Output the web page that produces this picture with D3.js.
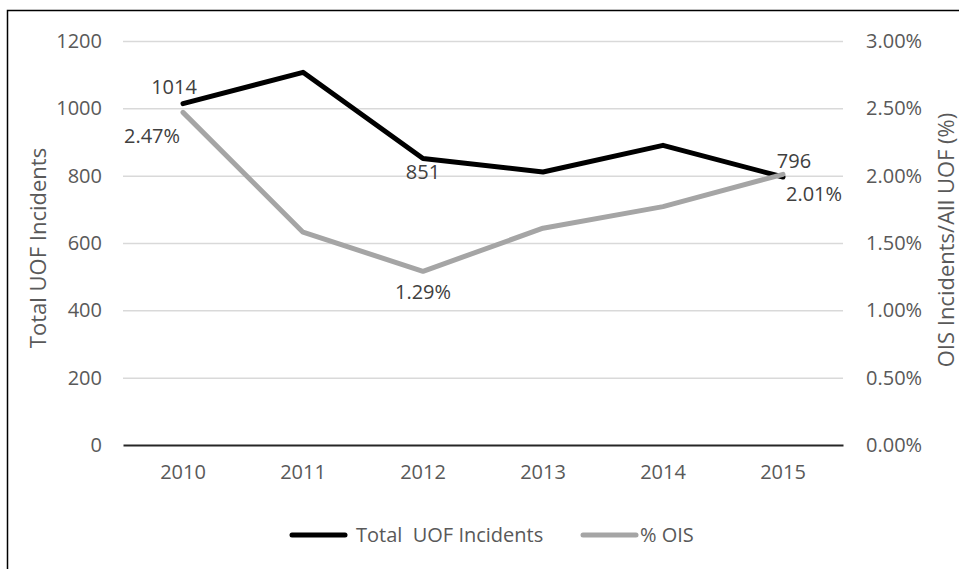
<!DOCTYPE html>
<html lang="en">
  <head>
    <meta charset="utf-8">
    <title>UOF Incidents</title>
    <style>
      body { margin: 0; background: #fff; }
      text { font-family: "Open Sans", sans-serif; }
    </style>
  </head>
  <body>
    <svg id="chart" width="959" height="569"></svg>
  </body>
  <script src="https://d3js.org/d3.v7.min.js"></script>
  <script>
    // values
    let years = ["2010", "2011", "2012", "2013", "2014", "2015"]
    let totalUOF = [1014, 1107, 851, 811, 890, 796]
    let pctOIS = [0.0247, 0.0158, 0.0129, 0.0161, 0.0177, 0.0201]
    let leftTicks = [0, 200, 400, 600, 800, 1000, 1200]
    let rightTicks = [0, 0.005, 0.01, 0.015, 0.02, 0.025, 0.03]

    let svg = d3.select("#chart")

    svg.append("rect")
      .attr("x", 7.5).attr("y", 10.5)
      .attr("width", 960).attr("height", 570)
      .style("fill", "white").style("stroke", "black").style("stroke-width", 1.5)

    let plotL = 123, plotR = 843, plotT = 41, plotB = 445

    let x = d3.scaleBand().domain(years).range([plotL, plotR])
    let cx = d => x(d) + x.bandwidth() / 2
    let yL = d3.scaleLinear().domain([0, 1200]).range([plotB, plotT])
    let yR = d3.scaleLinear().domain([0, 0.03]).range([plotB, plotT])

    // gridlines
    svg.append("g")
      .attr("transform", "translate(" + plotL + ",0)")
      .call(d3.axisLeft(yL).tickValues(leftTicks.slice(1)).tickSize(-(plotR - plotL)).tickFormat(""))
      .call(g => g.select(".domain").remove())
      .call(g => g.selectAll("line").style("stroke", "#d9d9d9").style("stroke-width", 1.5))

    // left axis labels
    let yAxisL = svg.append("g")
      .attr("transform", "translate(" + plotL + ",0)")
      .call(d3.axisLeft(yL).tickValues(leftTicks).tickSize(0).tickPadding(21).tickFormat(d3.format("d")))
    yAxisL.select(".domain").remove()

    // right axis labels
    let yAxisR = svg.append("g")
      .attr("transform", "translate(" + plotR + ",0)")
      .call(d3.axisRight(yR).tickValues(rightTicks).tickSize(0).tickPadding(23).tickFormat(d3.format(".2%")))
    yAxisR.select(".domain").remove()

    // x axis
    let xAxis = svg.append("g")
      .attr("transform", "translate(0," + plotB + ")")
      .call(d3.axisBottom(x).tickSize(0).tickPadding(20).tickSizeOuter(0))
    xAxis.select(".domain").style("stroke", "#262626").style("stroke-width", 2)

    svg.selectAll(".tick text")
      .style("font-family", "'Open Sans', sans-serif")
      .style("font-size", "20px")
      .style("fill", "#595959")

    // axis titles
    svg.append("text")
      .attr("transform", "translate(46,248) rotate(-90)")
      .attr("text-anchor", "middle")
      .style("font-size", "22px").style("fill", "#595959")
      .text("Total UOF Incidents")

    svg.append("text")
      .attr("transform", "translate(954,240) rotate(-90)")
      .attr("text-anchor", "middle")
      .style("font-size", "22px").style("fill", "#595959")
      .text("OIS Incidents/All UOF (%)")

    // lines
    let lineL = d3.line().x((d, i) => cx(years[i])).y(d => yL(d))
    let lineR = d3.line().x((d, i) => cx(years[i])).y(d => yR(d))

    svg.append("path").datum(totalUOF)
      .attr("d", lineL)
      .style("fill", "none").style("stroke", "black")
      .style("stroke-width", 5).style("stroke-linecap", "round").style("stroke-linejoin", "round")

    svg.append("path").datum(pctOIS)
      .attr("d", lineR)
      .style("fill", "none").style("stroke", "#a5a5a5")
      .style("stroke-width", 5).style("stroke-linecap", "round").style("stroke-linejoin", "round")

    // data labels (only some points are labelled)
    let labels = [
      {i: 0, v: totalUOF[0], s: "L", dx: -9, dy: -10},
      {i: 2, v: totalUOF[2], s: "L", dx: 0, dy: 21},
      {i: 5, v: totalUOF[5], s: "L", dx: 11, dy: -9},
      {i: 0, v: pctOIS[0], s: "R", dx: -31, dy: 31},
      {i: 2, v: pctOIS[2], s: "R", dx: 0, dy: 28},
      {i: 5, v: pctOIS[5], s: "R", dx: 31, dy: 27}
    ]
    svg.selectAll(".dlabel").data(labels).enter()
      .append("text")
      .attr("class", "dlabel")
      .attr("x", d => cx(years[d.i]) + d.dx)
      .attr("y", d => (d.s == "L" ? yL(d.v) : yR(d.v)) + d.dy)
      .attr("text-anchor", "middle")
      .style("font-size", "20px").style("fill", "#404040")
      .text(d => d.s == "L" ? d.v : d3.format(".2%")(d.v))

    // legend
    let legend = [
      {name: "Total  UOF Incidents", color: "black", x: 292},
      {name: "% OIS", color: "#a5a5a5", x: 583}
    ]
    let lg = svg.selectAll(".legend").data(legend).enter().append("g")
      .attr("transform", d => "translate(" + d.x + ",535)")
    lg.append("line")
      .attr("x1", 0).attr("x2", 53)
      .style("stroke", d => d.color).style("stroke-width", 5).style("stroke-linecap", "round")
    lg.append("text")
      .attr("x", (d, i) => i == 0 ? 64 : 57)
      .attr("y", 7)
      .style("font-size", "20px").style("fill", "#595959")
      .style("white-space", "pre")
      .text(d => d.name)
  </script>
</html>
